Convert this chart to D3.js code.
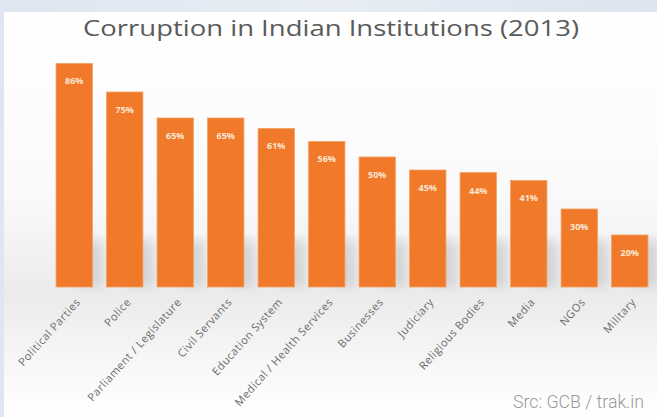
<!DOCTYPE html>
<html><head><meta charset="utf-8">
<script src="https://cdn.jsdelivr.net/npm/d3@7"></script>
<style>html,body{margin:0;padding:0;background:#dde5ef;overflow:hidden}</style>
</head><body>
<script>
const categories = ["Political Parties","Police","Parliament / Legislature","Civil Servants","Education System","Medical / Health Services","Businesses","Judiciary","Religious Bodies","Media","NGOs","Military"];
const values = [86,75,65,65,61,56,50,45,44,41,30,20];
const valueLabels = ["86%","75%","65%","65%","61%","56%","50%","45%","44%","41%","30%","20%"];
const title = "Corruption in Indian Institutions (2013)";
const source = "Src: GCB / trak.in";

const W = 657, H = 417;
const svg = d3.select("body").append("svg").attr("width", W).attr("height", H);
const defs = svg.append("defs");

const bgGrad = defs.append("linearGradient").attr("id","bg").attr("x1",0).attr("y1",0).attr("x2",0).attr("y2",1);
[[0,"#ffffff"],[0.45,"#fafafa"],[0.7,"#ebebeb"],[0.85,"#f6f6f6"],[1,"#ffffff"]].forEach(s=>bgGrad.append("stop").attr("offset",s[0]).attr("stop-color",s[1]));
const frame = defs.append("linearGradient").attr("id","fr").attr("x1",0).attr("y1",0).attr("x2",1).attr("y2",0);
[[0,"#dfe6f1"],[0.5,"#e8edf4"],[1,"#dce4ef"]].forEach(s=>frame.append("stop").attr("offset",s[0]).attr("stop-color",s[1]));
defs.append("filter").attr("id","blur").append("feGaussianBlur").attr("stdDeviation",6);

svg.append("rect").attr("width",W).attr("height",H).attr("fill","url(#fr)");
svg.append("rect").attr("x",4).attr("y",12).attr("width",W-4).attr("height",H-12).attr("fill","url(#bg)");

const x = d3.scaleBand().domain(categories).range([51, 653]).paddingInner(0.28).paddingOuter(0.1);
const y = d3.scaleLinear().domain([0,100]).range([287,27]);

// soft shadows behind bars
svg.append("g").attr("filter","url(#blur)").selectAll("rect").data(categories).join("rect")
  .attr("x", d=>x(d)+x.bandwidth()*0.6).attr("y", y(18)).attr("width", x.bandwidth()*0.7)
  .attr("height", y(0)-y(18)).attr("fill","#c8c8c8").attr("opacity",0.7);

const g = svg.append("g");
g.selectAll("rect.bar").data(categories).join("rect").attr("class","bar")
  .attr("x", d=>x(d)).attr("width", x.bandwidth())
  .attr("y", (d,i)=>y(values[i])).attr("height",(d,i)=>y(0)-y(values[i]))
  .attr("fill","#f07a2a").attr("stroke","#f4a064").attr("stroke-width",0.8);

g.selectAll("text.val").data(categories).join("text").attr("class","val")
  .attr("x", d=>x(d)+x.bandwidth()/2).attr("y",(d,i)=>y(values[i])+21)
  .attr("text-anchor","middle").attr("font-family","Open Sans, sans-serif").attr("font-weight","bold")
  .attr("font-size",9).attr("fill","#fbe6d3").text((d,i)=>valueLabels[i]);

const xAxis = d3.axisBottom(x).tickSize(0).tickPadding(0);
const ax = svg.append("g").attr("transform","translate(0,300)").call(xAxis);
ax.select(".domain").remove();
ax.selectAll("text").attr("font-family","Open Sans, sans-serif").attr("font-size",11).attr("letter-spacing",0.5).attr("fill","#6a6a6a")
  .attr("text-anchor","end").attr("y",0).attr("dy","0.35em").attr("transform","translate(4,0) rotate(-48)");

svg.append("text").attr("x",331).attr("y",36).attr("text-anchor","middle")
  .attr("font-family","Open Sans, sans-serif").attr("font-size",22).attr("fill","#5a5a5a")
  .attr("textLength",496).attr("lengthAdjust","spacingAndGlyphs").text(title);

svg.append("text").attr("x",644).attr("y",408).attr("text-anchor","end")
  .attr("font-family","Roboto, sans-serif").attr("font-weight",300).attr("font-size",19).attr("fill","#9a9a9a")
  .attr("textLength",131).attr("lengthAdjust","spacingAndGlyphs").text(source);
</script>
</body></html>
